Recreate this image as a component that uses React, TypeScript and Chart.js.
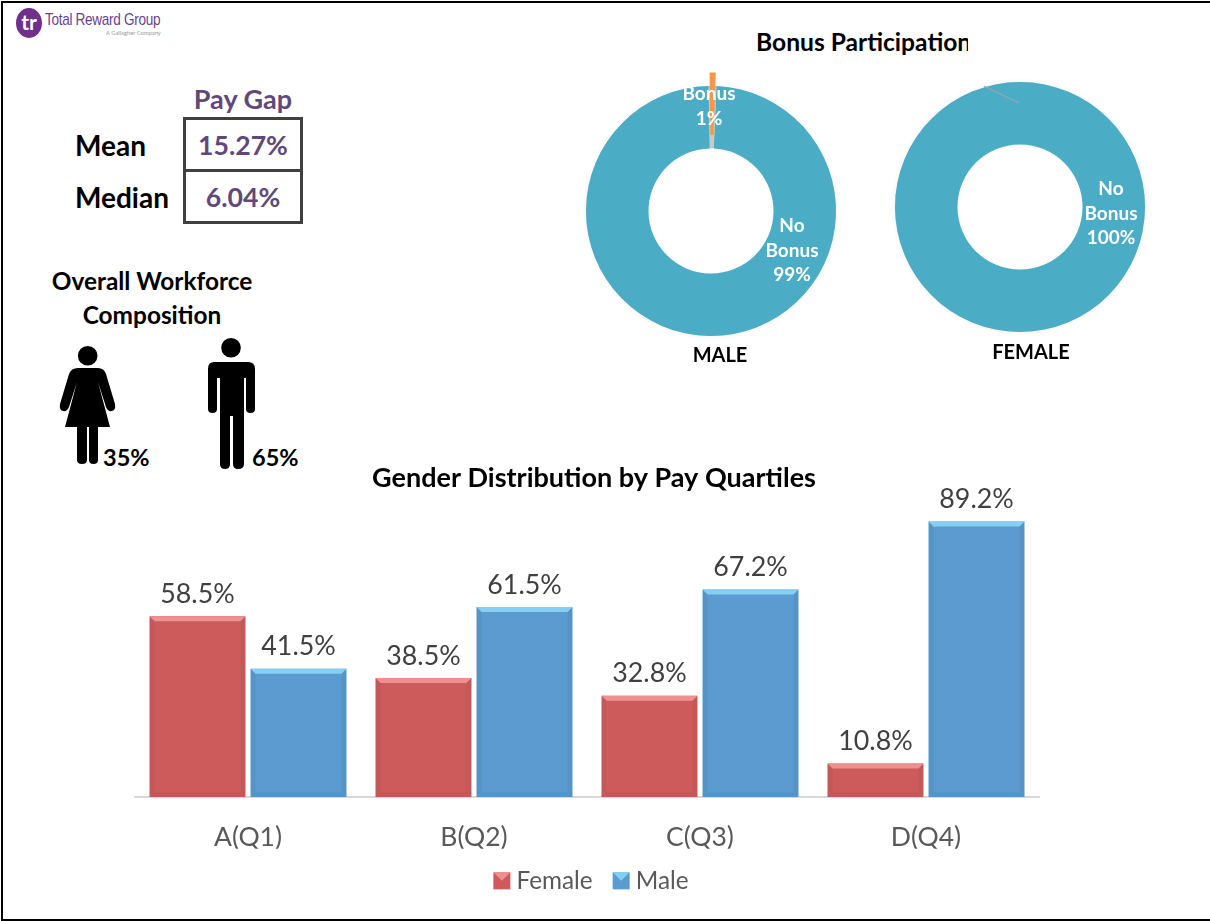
import React, { useEffect, useRef } from "react";
import { Chart, registerables } from "chart.js";

Chart.register(...registerables);

const FONT = "Lato, 'Noto Sans', sans-serif";

const quartiles = ["A(Q1)", "B(Q2)", "C(Q3)", "D(Q4)"];
const femaleShare = [58.5, 38.5, 32.8, 10.8];
const maleShare = [41.5, 61.5, 67.2, 89.2];

const bonusLabels = ["No Bonus", "Bonus"];
const maleBonus = [99, 1];
const femaleBonus = [100, 0];

const RED = "#CD5B5B";
const RED_LIGHT = "#EE9090";
const BLUE = "#5B9BCF";
const BLUE_LIGHT = "#85D0F2";
const TEAL = "#4BACC6";
const ORANGE = "#F79646";
const PURPLE = "#5F497A";

const barDecor = {
  id: "barDecor",
  afterLayout(chart: any) {
    const t = chart.titleBlock;
    t.left += 7;
    t.right += 7;
    const lg = chart.legend;
    lg.left += 4;
    lg.right += 4;
    (lg.legendHitBoxes || []).forEach((h: any) => {
      h.left += 4;
    });
  },
  afterDatasetsDraw(chart: any) {
    const { ctx } = chart;
    ctx.save();
    chart.data.datasets.forEach((ds: any, di: number) => {
      const light = di === 0 ? RED_LIGHT : BLUE_LIGHT;
      chart.getDatasetMeta(di).data.forEach((bar: any, i: number) => {
        const l = bar.x - bar.width / 2;
        const r = bar.x + bar.width / 2;
        const t = bar.y;
        const b = bar.base;
        const e = 5;
        ctx.fillStyle = light;
        ctx.beginPath();
        ctx.moveTo(l, t);
        ctx.lineTo(r, t);
        ctx.lineTo(r - e, t + e);
        ctx.lineTo(l + e, t + e);
        ctx.closePath();
        ctx.fill();
        ctx.fillStyle = "rgba(0,0,0,0.04)";
        ctx.beginPath();
        ctx.moveTo(l, t);
        ctx.lineTo(l + e, t + e);
        ctx.lineTo(l + e, b - e);
        ctx.lineTo(l, b);
        ctx.closePath();
        ctx.fill();
        ctx.beginPath();
        ctx.moveTo(r, t);
        ctx.lineTo(r - e, t + e);
        ctx.lineTo(r - e, b - e);
        ctx.lineTo(r, b);
        ctx.closePath();
        ctx.fill();
        ctx.beginPath();
        ctx.moveTo(l, b);
        ctx.lineTo(l + e, b - e);
        ctx.lineTo(r - e, b - e);
        ctx.lineTo(r, b);
        ctx.closePath();
        ctx.fill();
        ctx.fillStyle = "#404040";
        ctx.font = `26.8px ${FONT}`;
        ctx.textAlign = "center";
        ctx.textBaseline = "middle";
        ctx.fillText(`${ds.data[i].toFixed(1)}%`, bar.x, t - 22);
      });
    });
    const boxes = chart.legend.legendHitBoxes || [];
    boxes.forEach((h: any, i: number) => {
      const size = 17;
      const x = h.left;
      const y = h.top + (h.height - size) / 2;
      ctx.fillStyle = i === 0 ? RED : BLUE;
      ctx.fillRect(x, y, size, size);
      ctx.fillStyle = i === 0 ? RED_LIGHT : BLUE_LIGHT;
      ctx.beginPath();
      ctx.moveTo(x, y);
      ctx.lineTo(x + size, y);
      ctx.lineTo(x + size / 2, y + size / 2);
      ctx.closePath();
      ctx.fill();
    });
    ctx.restore();
  },
};

type DonutLabel = { lines: string[]; dx: number; dy: number };

const donutDecor = {
  id: "donutDecor",
  beforeDatasetsDraw(chart: any) {
    const { ctx } = chart;
    const arcs = chart.getDatasetMeta(0).data;
    const a = arcs[1];
    ctx.save();
    if (a.circumference > 0) {
      ctx.fillStyle = "#c9c9c9";
      ctx.beginPath();
      ctx.arc(a.x, a.y, a.outerRadius, a.startAngle, a.endAngle);
      ctx.arc(a.x, a.y, a.innerRadius, a.endAngle, a.startAngle, true);
      ctx.closePath();
      ctx.fill();
    }
    ctx.shadowColor = "rgba(0,0,0,0.35)";
    ctx.shadowBlur = 4;
    ctx.strokeStyle = "rgba(180,180,180,0.5)";
    ctx.lineWidth = 1;
    ctx.beginPath();
    ctx.arc(a.x, a.y, a.outerRadius - 0.5, 0, Math.PI * 2);
    ctx.stroke();
    ctx.restore();
  },
  afterDatasetsDraw(chart: any, _args: any, opts: any) {
    const { ctx } = chart;
    const a = chart.getDatasetMeta(0).data[0];
    ctx.save();
    if (opts.leader) {
      const [x1, y1, x2, y2] = opts.leader;
      ctx.strokeStyle = "#a6a6a6";
      ctx.lineWidth = 1;
      ctx.beginPath();
      ctx.moveTo(a.x + x1, a.y + y1);
      ctx.lineTo(a.x + x2, a.y + y2);
      ctx.stroke();
    }
    ctx.fillStyle = "#ffffff";
    ctx.font = `bold 19px ${FONT}`;
    ctx.textAlign = "center";
    ctx.textBaseline = "middle";
    (opts.labels as DonutLabel[]).forEach((l) => {
      l.lines.forEach((t, i) => ctx.fillText(t, a.x + l.dx, a.y + l.dy + i * 24.5));
    });
    ctx.restore();
  },
};

function Donut(props: {
  left: number;
  top: number;
  data: number[];
  labels: DonutLabel[];
  leader?: number[];
  rotation: number;
}) {
  const ref = useRef<HTMLCanvasElement>(null);
  useEffect(() => {
    const chart = new Chart(ref.current as HTMLCanvasElement, {
      type: "doughnut",
      data: {
        labels: bonusLabels,
        datasets: [
          {
            data: props.data,
            backgroundColor: [TEAL, ORANGE],
            borderWidth: 0,
            offset: [0, 28],
          },
        ],
      },
      options: {
        responsive: false,
        animation: false,
        radius: 125,
        cutout: "50%",
        rotation: props.rotation,
        plugins: {
          legend: { display: false },
          tooltip: { enabled: false },
          donutDecor: { labels: props.labels, leader: props.leader },
        },
      } as any,
      plugins: [donutDecor],
    });
    return () => chart.destroy();
  }, []);
  return (
    <canvas
      ref={ref}
      width={290}
      height={290}
      style={{ position: "absolute", left: props.left, top: props.top }}
    />
  );
}

function Bars() {
  const ref = useRef<HTMLCanvasElement>(null);
  useEffect(() => {
    const chart = new Chart(ref.current as HTMLCanvasElement, {
      type: "bar",
      data: {
        labels: quartiles,
        datasets: [
          { label: "Female", data: femaleShare, backgroundColor: RED, borderWidth: 0 },
          { label: "Male", data: maleShare, backgroundColor: BLUE, borderWidth: 0 },
        ],
      },
      options: {
        responsive: false,
        animation: false,
        layout: { padding: { left: 35, right: 47, top: 0, bottom: 0 } },
        datasets: { bar: { categoryPercentage: 0.894, barPercentage: 0.95 } },
        scales: {
          x: {
            grid: { display: false, drawTicks: false },
            border: { display: true, color: "#d9d9d9", width: 2 },
            ticks: { color: "#595959", font: { family: FONT, size: 26.5 }, padding: 25 },
            afterFit(scale: any) {
              scale.height -= 30;
            },
          },
          y: { display: false, min: 0, max: 98 },
        },
        plugins: {
          tooltip: { enabled: false },
          title: {
            display: true,
            text: "Gender Distribution by Pay Quartiles",
            color: "#000000",
            font: { family: FONT, size: 27, weight: "bold" },
            padding: { top: 2, bottom: 0 },
          },
          legend: {
            position: "bottom",
            labels: {
              color: "#595959",
              font: { family: FONT, size: 24.3 },
              boxWidth: 11,
              boxHeight: 17,
              padding: 20,
              generateLabels(chart: any) {
                return chart.data.datasets.map((ds: any, i: number) => ({
                  text: ds.label,
                  fillStyle: "rgba(0,0,0,0)",
                  strokeStyle: "rgba(0,0,0,0)",
                  lineWidth: 0,
                  datasetIndex: i,
                  fontColor: "#595959",
                }));
              },
            },
          },
        },
      } as any,
      plugins: [barDecor],
    });
    return () => chart.destroy();
  }, []);
  return (
    <canvas
      ref={ref}
      width={986}
      height={443}
      style={{ position: "absolute", left: 100, top: 460 }}
    />
  );
}

function Text(p: {
  x: number;
  y: number;
  size: number;
  color?: string;
  weight?: number;
  align?: "center" | "left";
  children: React.ReactNode;
}) {
  return (
    <div
      style={{
        position: "absolute",
        left: p.x,
        top: p.y,
        transform: p.align === "left" ? "translateY(-50%)" : "translate(-50%,-50%)",
        fontFamily: FONT,
        fontSize: p.size,
        fontWeight: p.weight ?? 700,
        color: p.color ?? "#000",
        whiteSpace: "nowrap",
        lineHeight: 1.2,
      }}
    >
      {p.children}
    </div>
  );
}

function Icons() {
  return (
    <svg width={300} height={160} style={{ position: "absolute", left: 30, top: 330 }} viewBox="30 330 300 160">
      <circle cx={87.7} cy={355.7} r={9.8} fill="#000" />
      <path
        d="M78 368 H98 Q104 368 106 374 L115 404 Q116 410 112 411 Q108 412 106 407 L98 382 L110 427 H98 V460 Q98 464 93.5 464 Q89 464 89 460 V427 H87 V460 Q87 464 82 464 Q77 464 77 460 V427 H65 L77 382 L69 407 Q67 412 63 411 Q59 410 60 404 L69 374 Q71 368 78 368 Z"
        fill="#000"
      />
      <circle cx={231} cy={347.7} r={9.8} fill="#000" />
      <path
        d="M214 362 H248 Q255 362 255 369 V409 Q255 413 250.5 413 Q246 413 246 409 V378 H244 V464 Q244 469 238 469 Q233 469 233 464 V416 H230 V464 Q230 469 225 469 Q220 469 220 464 V378 H217 V409 Q217 413 212.5 413 Q208 413 208 409 V369 Q208 362 214 362 Z"
        fill="#000"
      />
    </svg>
  );
}

export default function App() {
  return (
    <div
      style={{
        position: "absolute",
        left: 0,
        top: 0,
        width: 1210,
        height: 921,
        background: "#fff",
        overflow: "hidden",
      }}
    >
      <div
        style={{
          position: "absolute",
          left: 1,
          top: 1,
          width: 1215,
          height: 920,
          boxSizing: "border-box",
          borderLeft: "2px solid #000",
          borderTop: "2px solid #000",
          borderBottom: "2px solid #000",
        }}
      />
      <div
        style={{
          position: "absolute",
          left: 16,
          top: 8,
          width: 26,
          height: 30,
          borderRadius: "50%",
          background: "#702F8A",
          color: "#fff",
          fontFamily: FONT,
          fontWeight: 700,
          fontSize: 21,
          lineHeight: "28px",
          textAlign: "center",
        }}
      >
        tr
      </div>
      <div
        style={{
          position: "absolute",
          left: 45,
          top: 10,
          fontFamily: "'Liberation Sans', sans-serif",
          fontSize: 17,
          letterSpacing: -0.4,
          color: "#6B3F8F",
          whiteSpace: "nowrap",
          transform: "scaleX(0.8)",
          transformOrigin: "left center",
        }}
      >
        Total Reward Group
      </div>
      <div
        style={{
          position: "absolute",
          left: 106,
          top: 29,
          fontFamily: FONT,
          fontSize: 5.8,
          color: "#9a9a9a",
          whiteSpace: "nowrap",
        }}
      >
        A Gallagher Company
      </div>

      <Text x={243} y={99} size={27} color={PURPLE}>Pay Gap</Text>
      <div
        style={{
          position: "absolute",
          left: 183,
          top: 117,
          width: 120,
          height: 107,
          boxSizing: "border-box",
          border: "3px solid #404040",
        }}
      />
      <div style={{ position: "absolute", left: 183, top: 169, width: 120, height: 3, background: "#404040" }} />
      <Text x={243} y={146} size={26.6} color={PURPLE}>15.27%</Text>
      <Text x={243} y={198} size={26.6} color={PURPLE}>6.04%</Text>
      <Text x={75} y={146} size={28} align="left">Mean</Text>
      <Text x={75} y={198} size={28} align="left">Median</Text>

      <Text x={152} y={281} size={24.4}>Overall Workforce</Text>
      <Text x={152} y={315} size={24.4}>Composition</Text>
      <Icons />
      <Text x={103} y={457} size={23.5} align="left">35%</Text>
      <Text x={252} y={457} size={23.5} align="left">65%</Text>

      <div
        style={{
          position: "absolute",
          left: 756,
          top: 27,
          width: 212,
          height: 32,
          overflow: "hidden",
          fontFamily: FONT,
          fontSize: 24.6,
          fontWeight: 700,
          color: "#000",
          whiteSpace: "nowrap",
          lineHeight: "30px",
        }}
      >
        Bonus Participation
      </div>

      <Donut
        left={566}
        top={66}
        data={maleBonus}
        rotation={2.5}
        labels={[
          { lines: ["Bonus", "1%"], dx: -2, dy: -117 },
          { lines: ["No", "Bonus", "99%"], dx: 81, dy: 15 },
        ]}
      />
      <Donut
        left={875}
        top={62}
        data={femaleBonus}
        rotation={0}
        leader={[-36, -121, -1, -104]}
        labels={[{ lines: ["No", "Bonus", "100%"], dx: 91, dy: -18 }]}
      />
      <Text x={720} y={354} size={20}>MALE</Text>
      <Text x={1031} y={351} size={20}>FEMALE</Text>

      <Bars />
    </div>
  );
}
